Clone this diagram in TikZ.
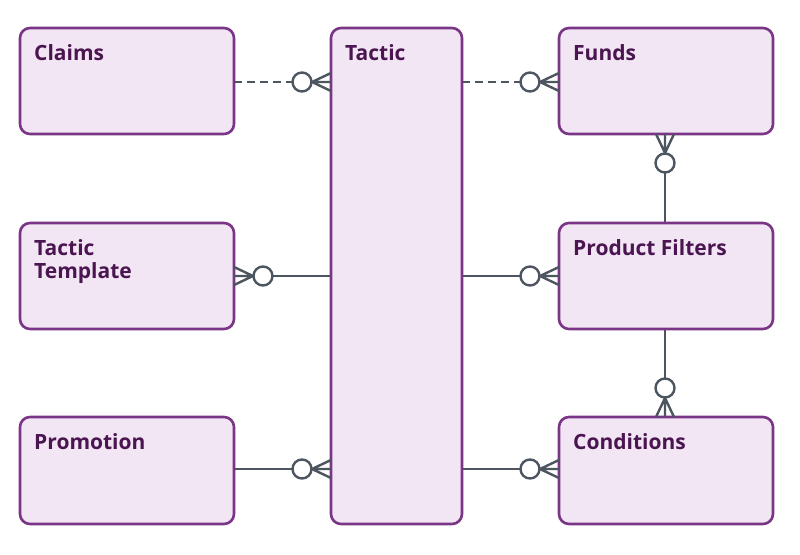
\documentclass[tikz,border=0pt]{standalone}
\usepackage{fontspec}
\setmainfont{Open Sans}
\begin{document}
\begin{tikzpicture}[x=1pt,y=-1pt,
  ent/.style={draw=boxc,fill=boxf,line width=2.6pt,rounded corners=10pt},
  lbl/.style={anchor=north west,text=txtc,font=\bfseries\fontsize{21}{23}\selectfont,align=left,inner sep=0pt},
  con/.style={draw=linec,line width=2.4pt},
  crow/.pic={\draw[linec,line width=2.4pt] (19,0)--(0,-9) (19,0)--(0,0) (19,0)--(0,9);
             \draw[linec,line width=2.4pt,fill=white] (29,0) circle (9.5);}]
\definecolor{boxc}{HTML}{7B3587}
\definecolor{boxf}{HTML}{F2E6F4}
\definecolor{txtc}{HTML}{4A1550}
\definecolor{linec}{HTML}{4D5560}
\useasboundingbox (0,0) rectangle (800,554);
\fill[white] (0,0) rectangle (800,554);
\coordinate (c1) at (234,82); \coordinate (t1) at (331,82);
\coordinate (f1) at (559,82); \coordinate (t2) at (462,82);
\coordinate (c2) at (234,276); \coordinate (t3) at (331,276);
\coordinate (p1) at (559,276); \coordinate (t4) at (462,276);
\coordinate (c3) at (234,469); \coordinate (t5) at (331,469);
\coordinate (k1) at (559,469); \coordinate (t6) at (462,469);
\coordinate (fb) at (665,134); \coordinate (pt) at (665,223);
\coordinate (pb) at (665,329); \coordinate (kt) at (665,417);
\draw[con,dash pattern=on 8pt off 5pt] (c1)--(t1);
\draw[con,dash pattern=on 8pt off 5pt] (t2)--(f1);
\draw[con] (c2)--(t3); \draw[con] (t4)--(p1);
\draw[con] (c3)--(t5); \draw[con] (t6)--(k1);
\draw[con] (fb)--(pt); \draw[con] (pb)--(kt);
\draw[ent] (20,28) rectangle (234,134);
\draw[ent] (20,223) rectangle (234,329);
\draw[ent] (20,417) rectangle (234,524);
\draw[ent] (331,28) rectangle (462,524);
\draw[ent] (559,28) rectangle (773,134);
\draw[ent] (559,223) rectangle (773,329);
\draw[ent] (559,417) rectangle (773,524);
\node[lbl] (claims) at (34,44) {Claims};
\node[lbl] (tt) at (34,239) {Tactic\\Template};
\node[lbl] (promo) at (34,433) {Promotion};
\node[lbl] (tactic) at (345,44) {Tactic};
\node[lbl] (funds) at (573,44) {Funds};
\node[lbl] (pf) at (573,239) {Product Filters};
\node[lbl] (cond) at (573,433) {Conditions};
\pic[rotate=180] at (t1) {crow};
\pic[rotate=180] at (f1) {crow};
\pic at (c2) {crow};
\pic[rotate=180] at (p1) {crow};
\pic[rotate=180] at (t5) {crow};
\pic[rotate=180] at (k1) {crow};
\pic[rotate=-90] at (fb) {crow};
\pic[rotate=90] at (kt) {crow};
\end{tikzpicture}
\end{document}
